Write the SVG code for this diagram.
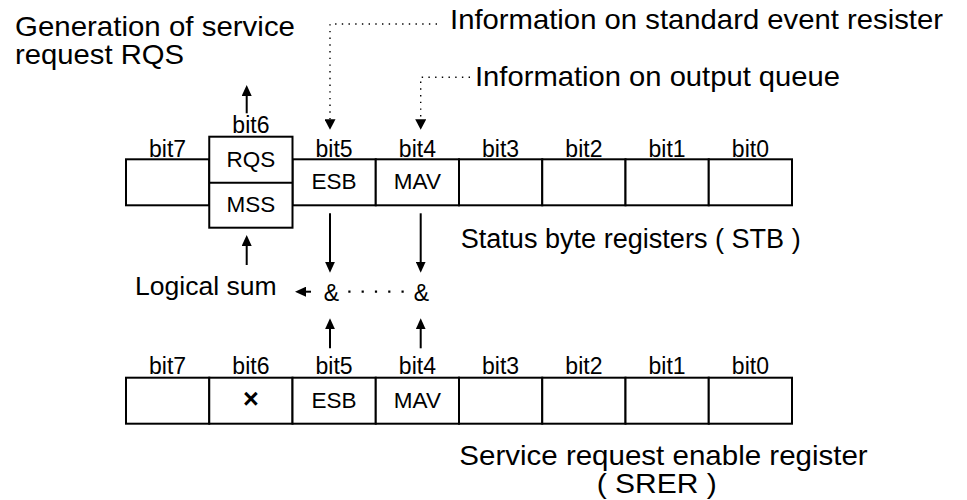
<svg xmlns="http://www.w3.org/2000/svg" width="967" height="500" viewBox="0 0 967 500">
<style>
text{font-family:"Liberation Sans",Arial,Helvetica,sans-serif;fill:#000}
.big{font-size:28px}
.bit{font-size:23px;text-anchor:middle}
.cell{font-size:22.5px;text-anchor:middle}
.box{fill:#fff;stroke:#000;stroke-width:2}
.ln{fill:none;stroke:#000;stroke-width:2}
.dot{fill:none;stroke:#000;stroke-width:1.4;stroke-dasharray:1.4 5.3}
.dots{fill:none;stroke:#000;stroke-width:2.2;stroke-dasharray:2.2 11.1}
</style>
<defs>
<marker id="ah" markerUnits="userSpaceOnUse" markerWidth="11" markerHeight="10" refX="2" refY="5" orient="auto">
<path d="M0,0 L11,5 L0,10 z" fill="#000"/>
</marker>
<marker id="dah" markerUnits="userSpaceOnUse" markerWidth="11" markerHeight="11" refX="0" refY="5.5" orient="auto">
<path d="M0,0 L10.5,5.5 L0,11 z" fill="#000"/>
</marker>
</defs>
<rect width="967" height="500" fill="#fff"/>

<g id="labels">
<text class="big" x="15" y="35.5" textLength="280" lengthAdjust="spacingAndGlyphs">Generation of service</text>
<text class="big" x="15" y="63.5" textLength="169" lengthAdjust="spacingAndGlyphs">request RQS</text>
<text class="big" x="450" y="29" textLength="493" lengthAdjust="spacingAndGlyphs">Information on standard event resister</text>
<text class="big" x="475" y="86" textLength="365" lengthAdjust="spacingAndGlyphs">Information on output queue</text>
<text x="460.7" y="248.3" style="font-size:27px" textLength="340" lengthAdjust="spacingAndGlyphs">Status byte registers ( STB )</text>
<text x="135" y="295" style="font-size:26.5px" textLength="141.7" lengthAdjust="spacingAndGlyphs">Logical sum</text>
<text class="big" x="459.3" y="465" textLength="408.4" lengthAdjust="spacingAndGlyphs">Service request enable register</text>
<text class="big" x="596.7" y="492.7" textLength="120" lengthAdjust="spacingAndGlyphs">( SRER )</text>
</g>

<g id="stb">
<rect class="box" x="126" y="159.3" width="83.25" height="46"/>
<rect class="box" x="292.5" y="159.3" width="83.25" height="46"/>
<rect class="box" x="375.75" y="159.3" width="83.25" height="46"/>
<rect class="box" x="459" y="159.3" width="83.25" height="46"/>
<rect class="box" x="542.25" y="159.3" width="83.25" height="46"/>
<rect class="box" x="625.5" y="159.3" width="83.25" height="46"/>
<rect class="box" x="708.75" y="159.3" width="83.25" height="46"/>
<text class="bit" x="167.6" y="156.5">bit7</text>
<text class="bit" x="334.1" y="156.5">bit5</text>
<text class="bit" x="417.4" y="156.5">bit4</text>
<text class="bit" x="500.6" y="156.5">bit3</text>
<text class="bit" x="583.9" y="156.5">bit2</text>
<text class="bit" x="667.1" y="156.5">bit1</text>
<text class="bit" x="750.4" y="156.5">bit0</text>
<text class="cell" x="334.1" y="189.3">ESB</text>
<text class="cell" x="417.4" y="189.3">MAV</text>
</g>

<g id="rqs-mss">
<rect class="box" x="209.25" y="136.7" width="83.25" height="91"/>
<path class="ln" d="M209.25 182.7 H292.5"/>
<text class="bit" x="250.9" y="133.4">bit6</text>
<text class="cell" x="250.9" y="166.7">RQS</text>
<text class="cell" x="250.9" y="211.7">MSS</text>
</g>

<g id="and-gates">
<text x="331.3" y="300.5" style="font-size:23px;text-anchor:middle">&amp;</text>
<text x="421.3" y="300.5" style="font-size:23px;text-anchor:middle">&amp;</text>
</g>

<g id="srer">
<rect class="box" x="126" y="377.7" width="83.25" height="46"/>
<rect class="box" x="209.25" y="377.7" width="83.25" height="46"/>
<rect class="box" x="292.5" y="377.7" width="83.25" height="46"/>
<rect class="box" x="375.75" y="377.7" width="83.25" height="46"/>
<rect class="box" x="459" y="377.7" width="83.25" height="46"/>
<rect class="box" x="542.25" y="377.7" width="83.25" height="46"/>
<rect class="box" x="625.5" y="377.7" width="83.25" height="46"/>
<rect class="box" x="708.75" y="377.7" width="83.25" height="46"/>
<text class="bit" x="167.6" y="374.3">bit7</text>
<text class="bit" x="250.9" y="374.3">bit6</text>
<text class="bit" x="334.1" y="374.3">bit5</text>
<text class="bit" x="417.4" y="374.3">bit4</text>
<text class="bit" x="500.6" y="374.3">bit3</text>
<text class="bit" x="583.9" y="374.3">bit2</text>
<text class="bit" x="667.1" y="374.3">bit1</text>
<text class="bit" x="750.4" y="374.3">bit0</text>
<text x="250.9" y="408" style="font-size:27px;font-weight:bold;text-anchor:middle">×</text>
<text class="cell" x="334.1" y="408.3">ESB</text>
<text class="cell" x="417.4" y="408.3">MAV</text>
</g>

<g id="connectors">
<path class="dot" d="M437 24 H330 V119.3" marker-end="url(#dah)"/>
<path class="dot" d="M470 77.3 H420.7 V119.3" marker-end="url(#dah)"/>
<path class="ln" d="M246.7 113.3 V94" marker-end="url(#ah)"/>
<path class="ln" d="M246.7 265 V244" marker-end="url(#ah)"/>
<path class="ln" d="M330 213.3 V263.7" marker-end="url(#ah)"/>
<path class="ln" d="M420.7 213.3 V263.7" marker-end="url(#ah)"/>
<path class="ln" d="M311 291.7 H304" marker-end="url(#ah)"/>
<path class="dots" d="M348.3 291.7 H404"/>
<path class="ln" d="M330 348.3 V327.3" marker-end="url(#ah)"/>
<path class="ln" d="M420.7 348.3 V327.3" marker-end="url(#ah)"/>
</g>
</svg>
